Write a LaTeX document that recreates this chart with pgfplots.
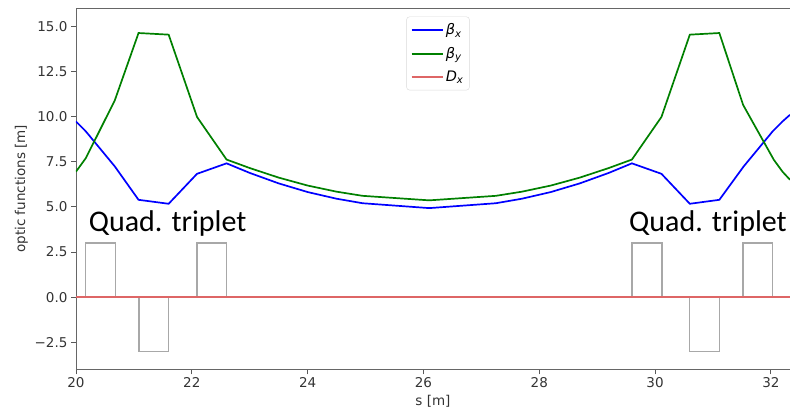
\documentclass[border=0pt]{standalone}
\usepackage{fontspec}
\setmainfont{DejaVu Sans}
\newfontfamily\carlito{Carlito}
\usepackage{pgfplots}
\pgfplotsset{compat=1.18}
\definecolor{mplgreen}{rgb}{0,0.5,0}
\definecolor{dxred}{rgb}{0.87,0.40,0.40}
\definecolor{quadgray}{rgb}{0.66,0.66,0.66}
\begin{document}
\begin{tikzpicture}[x=1pt,y=1pt]
\begin{axis}[
 at={(0,0)}, anchor=south west,
 scale only axis, width=714pt, height=361pt,
 xmin=20, xmax=32.33, ymin=-4, ymax=16,
 xtick={20,22,24,26,28,30,32}, xticklabels={20,22,24,26,28,30,32},
 ytick={-2.5,0,2.5,5,7.5,10,12.5,15},
 yticklabels={−2.5,0.0,2.5,5.0,7.5,10.0,12.5,15.0},
 tick align=outside, xtick pos=bottom, ytick pos=left,
 major tick length=5pt,
 every tick/.style={black!65, line width=0.8pt},
 axis line style={black!60, line width=0.9pt},
 tick label style={font=\fontsize{13.5}{15}\selectfont, text=black!80},
 label style={font=\fontsize{13.5}{15}\selectfont, text=black!80},
 xlabel={s [m]}, ylabel={optic functions [m]},
 legend style={at={(0.507,0.977)}, anchor=north, draw=black!15, rounded corners=3pt,
   fill=white, font=\fontsize{14.5}{16}\selectfont, row sep=7pt, inner xsep=4pt, inner ysep=5pt},
 legend cell align=left,
 legend image code/.code={\draw[#1] (0pt,0pt) -- (31pt,0pt);},
]
% quadrupoles
\addplot[quadgray, line width=1.3pt, forget plot] coordinates {(20.17,0) (20.17,3) (20.68,3) (20.68,0) (20.17,0)};
\addplot[quadgray, line width=1.3pt, forget plot] coordinates {(21.09,0) (21.09,-3) (21.60,-3) (21.60,0) (21.09,0)};
\addplot[quadgray, line width=1.3pt, forget plot] coordinates {(22.09,0) (22.09,3) (22.60,3) (22.60,0) (22.09,0)};
\addplot[quadgray, line width=1.3pt, forget plot] coordinates {(29.60,0) (29.60,3) (30.12,3) (30.12,0) (29.60,0)};
\addplot[quadgray, line width=1.3pt, forget plot] coordinates {(30.60,0) (30.60,-3) (31.11,-3) (31.11,0) (30.60,0)};
\addplot[quadgray, line width=1.3pt, forget plot] coordinates {(31.52,0) (31.52,3) (32.03,3) (32.03,0) (31.52,0)};
% beta x
\addplot[blue, line width=1.7pt] coordinates {
(20.00,9.73) (20.17,9.18) (20.67,7.24) (21.08,5.39) (21.60,5.17) (22.09,6.83)
(22.60,7.41) (23.00,6.88) (23.50,6.30) (24.00,5.82) (24.50,5.45) (24.95,5.20)
(26.10,4.93) (27.25,5.20) (27.70,5.45) (28.20,5.82) (28.70,6.30) (29.20,6.88)
(29.60,7.41) (30.11,6.83) (30.60,5.17) (31.11,5.39) (31.53,7.24) (32.03,9.18)
(32.20,9.73) (32.33,10.10)};
\addlegendentry{\textit{β\textsubscript{x}}}
% beta y
\addplot[mplgreen, line width=1.7pt] coordinates {
(20.00,6.95) (20.17,7.70) (20.67,10.90) (21.08,14.63) (21.60,14.54) (22.09,9.98)
(22.60,7.62) (23.00,7.15) (23.50,6.62) (24.00,6.18) (24.50,5.84) (24.95,5.61)
(26.10,5.36) (27.25,5.61) (27.70,5.84) (28.20,6.18) (28.70,6.62) (29.20,7.15)
(29.60,7.62) (30.11,9.98) (30.60,14.54) (31.11,14.63) (31.52,10.65) (31.72,9.50)
(32.05,7.61) (32.20,6.95) (32.33,6.50)};
\addlegendentry{\textit{β\textsubscript{y}}}
% Dx
\addplot[dxred, line width=2.2pt] coordinates {(20,0) (26.1,0) (32.33,0)};
\addlegendentry{\textit{D\textsubscript{x}}}
\node[anchor=base west, font=\carlito\fontsize{30}{36}\selectfont, inner sep=0pt] at (axis cs:20.22,3.62) {Quad. triplet};
\node[anchor=base west, font=\carlito\fontsize{30}{36}\selectfont, inner sep=0pt] at (axis cs:29.55,3.62) {Quad. triplet};
\end{axis}
\pgfresetboundingbox
\path (-76,-42) rectangle (714,369.3);
\end{tikzpicture}
\end{document}
